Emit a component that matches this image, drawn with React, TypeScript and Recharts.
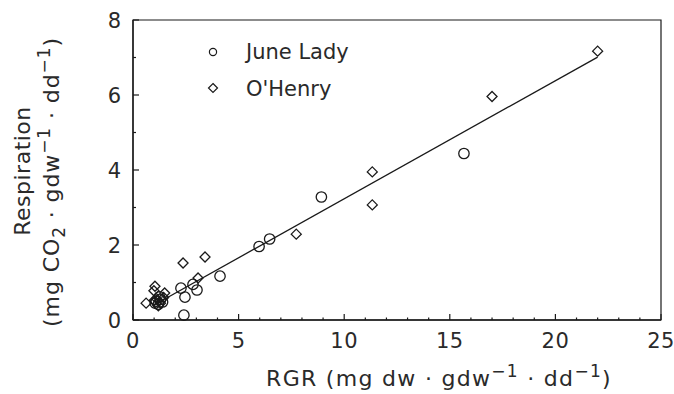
import React from "react";
import { ScatterChart, Scatter, XAxis, YAxis, ReferenceArea, ReferenceLine } from "recharts";

const juneLadyX = [1.1, 1.2, 1.3, 1.4, 1.25, 1.05, 2.27, 2.46, 2.41, 2.84, 3.03, 4.12, 5.97, 6.47, 8.92, 15.67];
const juneLadyY = [0.5, 0.42, 0.55, 0.48, 0.62, 0.45, 0.85, 0.61, 0.13, 0.95, 0.8, 1.17, 1.96, 2.16, 3.28, 4.44];

const oHenryX = [0.62, 0.99, 1.04, 1.15, 1.3, 1.45, 1.5, 1.2, 1.0, 2.37, 3.08, 3.41, 7.73, 11.33, 11.33, 17.0, 22.0];
const oHenryY = [0.45, 0.78, 0.9, 0.55, 0.45, 0.6, 0.72, 0.38, 0.52, 1.52, 1.12, 1.68, 2.29, 3.07, 3.95, 5.96, 7.17];

const fitX = [1.0, 22.0];
const fitY = [0.4, 7.01];

const xTicks = Array.from({ length: 26 }, (_, i) => i);
const yTicks = [0, 1, 2, 3, 4, 5, 6, 7, 8];
const xMajor = [0, 5, 10, 15, 20, 25];
const yMajor = [0, 2, 4, 6, 8];

const seriesNames = ["June Lady", "O'Henry"];

const juneLady = juneLadyX.map((x, i) => ({ x, y: juneLadyY[i] }));
const oHenry = oHenryX.map((x, i) => ({ x, y: oHenryY[i] }));

const FONT = "'DejaVu Sans', sans-serif";
const INK = "#1a1a1a";
const TXT = "#2a2a2a";

const CircleShape = (p: any) => (
  <circle cx={p.cx} cy={p.cy} r={5.2} fill="none" stroke={INK} strokeWidth={1.3} />
);
const DiamondShape = (p: any) => {
  const s = 5;
  return (
    <path
      d={`M${p.cx},${p.cy - s}L${p.cx + s},${p.cy}L${p.cx},${p.cy + s}L${p.cx - s},${p.cy}Z`}
      fill="none"
      stroke={INK}
      strokeWidth={1.3}
    />
  );
};

const XTick = (p: any) => {
  const v = p.payload.value;
  const major = xMajor.includes(v);
  return (
    <g>
      <line x1={p.x} x2={p.x} y1={p.y} y2={p.y - (major ? 6 : 2.5)} stroke={INK} strokeWidth={1.2} />
      {major && (
        <text x={p.x} y={p.y + 28} textAnchor="middle" fontFamily={FONT} fontSize={21} fill={TXT} letterSpacing={0.5}>
          {v}
        </text>
      )}
    </g>
  );
};

const YTick = (p: any) => {
  const v = p.payload.value;
  const major = yMajor.includes(v);
  return (
    <g>
      <line x1={p.x} x2={p.x + (major ? 6 : 3)} y1={p.y} y2={p.y} stroke={INK} strokeWidth={1.2} />
      {major && (
        <text x={p.x - 12} y={p.y + 8} textAnchor="end" fontFamily={FONT} fontSize={21} fill={TXT}>
          {v}
        </text>
      )}
    </g>
  );
};

export default function App() {
  return (
    <div style={{ position: "absolute", left: 0, top: 0, width: 674, height: 394, background: "#fff" }}>
      <ScatterChart width={674} height={394} margin={{ top: 20, right: 13, bottom: 0, left: 0 }}>
        <XAxis
          type="number"
          dataKey="x"
          domain={[0, 25]}
          ticks={xTicks}
          interval={0}
          tickSize={0}
          tickMargin={0}
          tickLine={false}
          axisLine={{ stroke: INK, strokeWidth: 1.3 }}
          tick={<XTick />}
          height={74}
        />
        <YAxis
          type="number"
          dataKey="y"
          domain={[0, 8]}
          ticks={yTicks}
          interval={0}
          tickSize={0}
          tickMargin={0}
          tickLine={false}
          axisLine={{ stroke: INK, strokeWidth: 1.3 }}
          tick={<YTick />}
          width={133}
        />
        <ReferenceArea x1={0} x2={25} y1={0} y2={8} fill="none" stroke={INK} strokeWidth={1.2} ifOverflow="visible" />
        <ReferenceLine
          segment={[
            { x: fitX[0], y: fitY[0] },
            { x: fitX[1], y: fitY[1] },
          ]}
          stroke={INK}
          strokeWidth={1.3}
        />
        <Scatter name={seriesNames[0]} data={juneLady} shape={CircleShape} isAnimationActive={false} />
        <Scatter name={seriesNames[1]} data={oHenry} shape={DiamondShape} isAnimationActive={false} />
      </ScatterChart>
      <svg width={674} height={394} style={{ position: "absolute", left: 0, top: 0, pointerEvents: "none" }}>
        <g fontFamily={FONT} fill={TXT}>
          <circle cx={213} cy={52} r={3.6} fill="none" stroke={INK} strokeWidth={1.2} />
          <text x={246} y={59} fontSize={21}>{seriesNames[0]}</text>
          <path d="M213,83.5L217.5,88L213,92.5L208.5,88Z" fill="none" stroke={INK} strokeWidth={1.2} />
          <text x={246} y={96} fontSize={21}>{seriesNames[1]}</text>

          <text x={439} y={386} fontSize={22} textAnchor="middle" letterSpacing={1.3}>
            RGR (mg dw · gdw
            <tspan dy={-9} fontSize={17}>−1</tspan>
            <tspan dy={9}> · dd</tspan>
            <tspan dy={-9} fontSize={17}>−1</tspan>
            <tspan dy={9}>)</tspan>
          </text>

          <text x={30} y={171} fontSize={22} textAnchor="middle" letterSpacing={0.5} transform="rotate(-90 30 171)">
            Respiration
          </text>
          <text x={59} y={182} fontSize={22} textAnchor="middle" letterSpacing={0.9} transform="rotate(-90 59 182)">
            (mg CO
            <tspan dy={6} fontSize={17}>2</tspan>
            <tspan dy={-6}> · gdw</tspan>
            <tspan dy={-9} fontSize={17}>−1</tspan>
            <tspan dy={9}> · dd</tspan>
            <tspan dy={-9} fontSize={17}>−1</tspan>
            <tspan dy={9}>)</tspan>
          </text>
        </g>
      </svg>
    </div>
  );
}
